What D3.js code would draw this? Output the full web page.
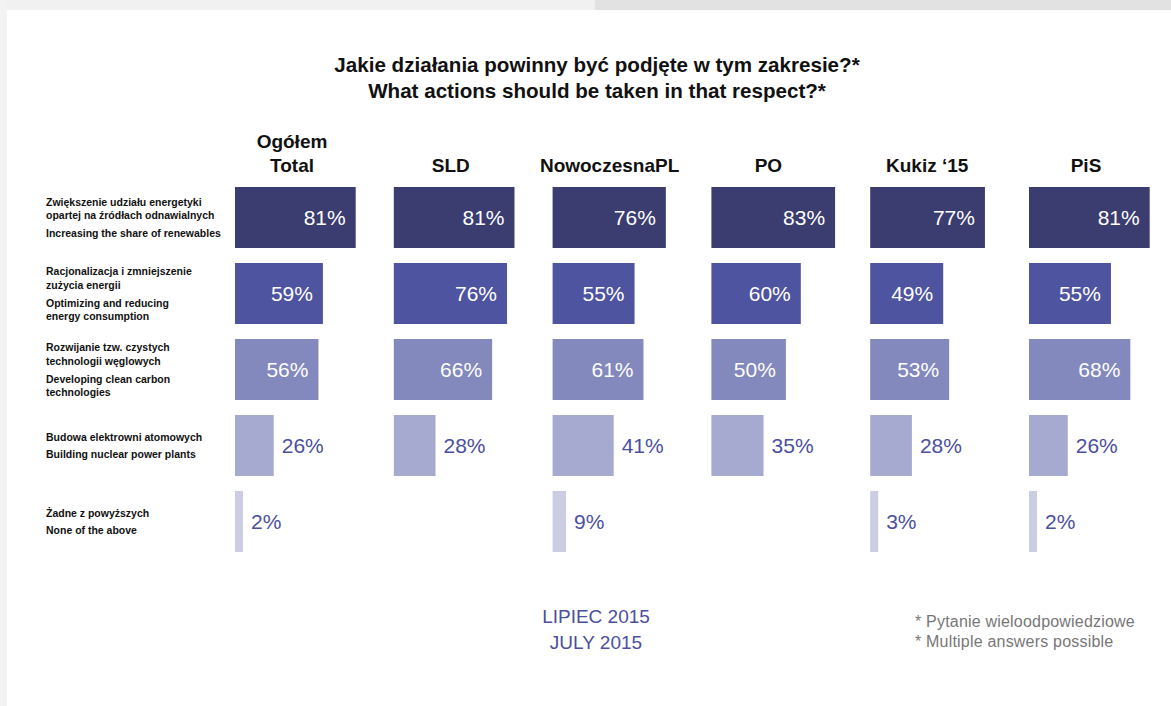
<!DOCTYPE html>
<html>
<head>
<meta charset="utf-8">
<script src="https://cdn.jsdelivr.net/npm/d3@7"></script>
<style>
  body { margin: 0; background: #fff; }
  svg { display: block; font-family: "Liberation Sans", Arial, sans-serif; }
  .rowlab { font-weight: bold; font-size: 11.5px; fill: #111; }
</style>
</head>
<body>
<div id="chart"></div>
<script>
const groups = ['Ogółem|Total', 'SLD', 'NowoczesnaPL', 'PO', 'Kukiz ‘15', 'PiS'];
const answers = [
  ['Zwiększenie udziału energetyki', 'opartej na źródłach odnawialnych', '|Increasing the share of renewables'],
  ['Racjonalizacja i zmniejszenie', 'zużycia energii', '|Optimizing and reducing', 'energy consumption'],
  ['Rozwijanie tzw. czystych', 'technologii węglowych', '|Developing clean carbon', 'technologies'],
  ['Budowa elektrowni atomowych', 'Building nuclear power plants'],
  ['Żadne z powyższych', 'None of the above']
];
// values per answer row, one per group (null = no answer shown)
const renewables = [81, 81, 76, 83, 77, 81];
const reducing   = [59, 76, 55, 60, 49, 55];
const cleanCoal  = [56, 66, 61, 50, 53, 68];
const nuclear    = [26, 28, 41, 35, 28, 26];
const noneAbove  = [2, null, 9, null, 3, 2];
const rowValues = [renewables, reducing, cleanCoal, nuclear, noneAbove];
const rowColors = ['#3b3c70', '#4e54a0', '#8388bd', '#a7aad0', '#cbcde2'];

const width = 1171, height = 706;
const svg = d3.select('#chart').append('svg')
  .attr('width', width).attr('height', height);

// page frame
svg.append('rect').attr('x', 0).attr('y', 0).attr('width', 595).attr('height', 10).attr('fill', '#f1f1f1');
svg.append('rect').attr('x', 595).attr('y', 0).attr('width', width - 595).attr('height', 10).attr('fill', '#e2e2e2');
svg.append('rect').attr('x', 0).attr('y', 0).attr('width', 7).attr('height', height).attr('fill', '#f3f3f3');

// title
const title = svg.append('text').attr('text-anchor', 'middle').attr('font-size', 20.6).attr('font-weight', 'bold').attr('fill', '#111');
title.append('tspan').attr('x', 597).attr('y', 72).text('Jakie działania powinny być podjęte w tym zakresie?*');
title.append('tspan').attr('x', 597).attr('y', 98).text('What actions should be taken in that respect?*');

const col = d3.scaleBand().domain(d3.range(groups.length)).range([235, 235 + 158.8 * groups.length]).paddingInner(0);
const row = d3.scaleBand().domain(d3.range(answers.length)).range([187, 187 + 76 * 4 + 61]).paddingInner(15 / 76).paddingOuter(0);
const w = d3.scaleLinear().domain([0, 100]).range([0, 149]);

// group headers
groups.forEach((g, i) => {
  const lines = g.split('|');
  const t = svg.append('text').attr('text-anchor', 'middle').attr('font-size', 19).attr('font-weight', 'bold').attr('fill', '#111');
  lines.forEach((l, k) => {
    t.append('tspan').attr('x', col(i) + 57).attr('y', 172 - (lines.length - 1 - k) * 24).text(l);
  });
});

// row labels (condensed by horizontal scaling)
const labelG = svg.append('g');
answers.forEach((lines, r) => {
  const cy = row(r) + row.bandwidth() / 2;
  const gaps = lines.filter(l => l.startsWith('|')).length;
  const lh = lines.length === 2 ? 16.5 : 13.3;
  const total = (lines.length - 1) * lh + gaps * 5;
  let y = cy - total / 2 + 4.2;
  const t = labelG.append('text').attr('class', 'rowlab');
  lines.forEach(l => {
    if (l.startsWith('|')) { y += 5; l = l.slice(1); }
    t.append('tspan').attr('x', 0).attr('y', y).text(l);
    y += lh;
  });
});
let longest = 0;
labelG.selectAll('tspan').each(function() { longest = Math.max(longest, this.getComputedTextLength()); });
labelG.attr('transform', `translate(46,0) scale(${175 / longest},1)`);

// bars
rowValues.forEach((vals, r) => {
  const data = vals.map((v, i) => ({ v, i })).filter(d => d.v !== null);
  const g = svg.append('g');
  g.selectAll('rect').data(data).join('rect')
    .attr('x', d => col(d.i))
    .attr('y', row(r))
    .attr('width', d => Math.max(w(d.v), 8))
    .attr('height', row.bandwidth())
    .attr('fill', rowColors[r]);
  const inside = r < 3;
  g.selectAll('text').data(data).join('text')
    .attr('x', d => inside ? col(d.i) + w(d.v) - 10 : col(d.i) + Math.max(w(d.v), 8) + 8)
    .attr('y', row(r) + row.bandwidth() / 2)
    .attr('dy', '0.36em')
    .attr('text-anchor', inside ? 'end' : 'start')
    .attr('font-size', 21)
    .attr('fill', inside ? '#fff' : '#4b4f9d')
    .text(d => d.v + '%');
});

// footer
const foot = svg.append('text').attr('text-anchor', 'middle').attr('font-size', 19).attr('fill', '#4b4f9d');
foot.append('tspan').attr('x', 596).attr('y', 623).text('LIPIEC 2015');
foot.append('tspan').attr('x', 596).attr('y', 649).text('JULY 2015');

const note = svg.append('text').attr('font-size', 16).attr('letter-spacing', 0.2).attr('fill', '#777');
note.append('tspan').attr('x', 915).attr('y', 627).text('* Pytanie wieloodpowiedziowe');
note.append('tspan').attr('x', 915).attr('y', 647).text('* Multiple answers possible');
</script>
</body>
</html>
